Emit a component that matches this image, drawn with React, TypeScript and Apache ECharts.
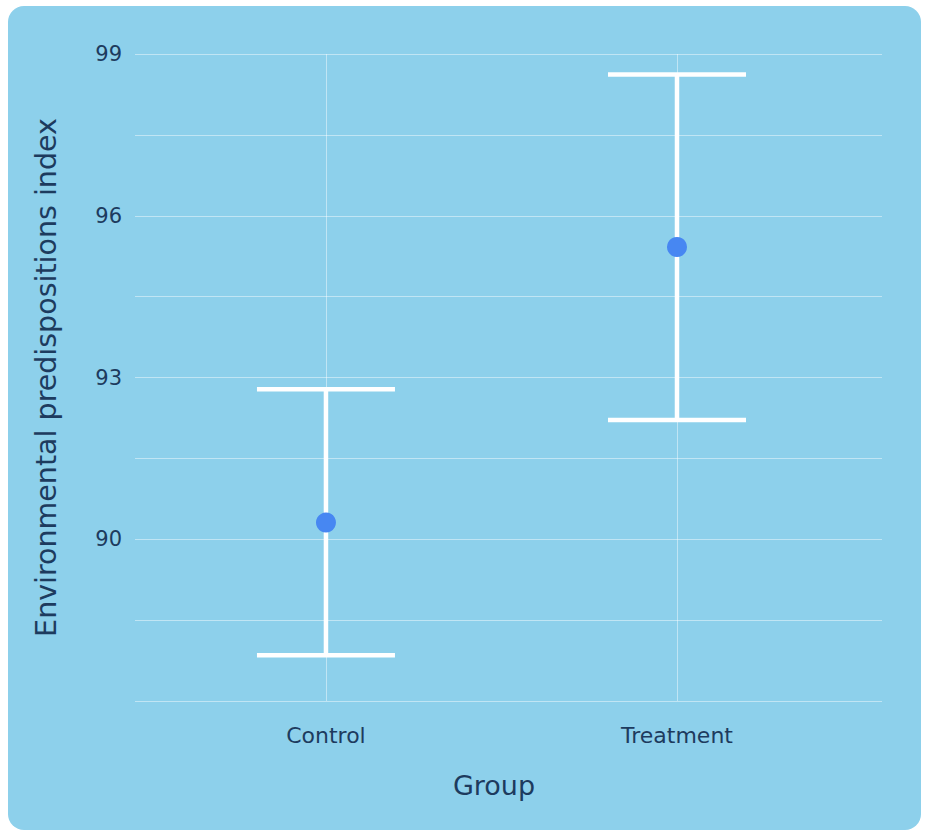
import React, { useEffect, useRef } from "react";
import * as echarts from "echarts";

const groups = ["Control", "Treatment"];
const means = [90.31, 95.42];
const lowers = [87.85, 92.21];
const uppers = [92.78, 98.62];
const yTicks = [90, 93, 96, 99];

const TEXT = "#1d3b5e";
const FONT = "'DejaVu Sans', 'Noto Sans', sans-serif";

export default function App() {
  const ref = useRef<HTMLDivElement>(null);
  useEffect(() => {
    if (!ref.current) return;
    const chart = echarts.init(ref.current, undefined, { renderer: "svg" });
    const errData = groups.map((_, i) => [i, lowers[i], uppers[i]]);
    const meanData = groups.map((_, i) => [i, means[i]]);
    chart.setOption({
      animation: false,
      backgroundColor: "#ffffff",
      graphic: [
        {
          type: "rect",
          z: -10,
          silent: true,
          shape: { x: 8, y: 6, width: 913, height: 824, r: 16 },
          style: { fill: "#8dd0eb" },
        },
        {
          type: "text",
          x: 494,
          y: 785,
          style: {
            text: "Group",
            fill: TEXT,
            font: `27px ${FONT}`,
            textAlign: "center",
            textVerticalAlign: "middle",
          },
        },
      ],
      grid: { left: 135, right: 45, top: 54, bottom: 129 },
      xAxis: {
        type: "value",
        min: -0.544,
        max: 1.584,
        axisLine: { show: false },
        axisTick: { show: false },
        splitLine: { show: false },
        axisLabel: {
          customValues: [0, 1],
          formatter: (v: number) => groups[Math.round(v)] ?? "",
          color: TEXT,
          fontSize: 22,
          fontFamily: FONT,
          margin: 23,
        },
      },
      yAxis: {
        type: "value",
        min: 87,
        max: 99,
        interval: 1.5,
        name: "Environmental predispositions index",
        nameLocation: "middle",
        nameGap: 74,
        nameTextStyle: { color: TEXT, fontSize: 28.5, fontFamily: FONT },
        axisLine: { show: false },
        axisTick: { show: false },
        axisLabel: {
          color: TEXT,
          fontSize: 21,
          fontFamily: FONT,
          margin: 13,
          formatter: (v: number) =>
            yTicks.some((t) => Math.abs(t - v) < 1e-6) ? String(v) : "",
        },
        splitLine: {
          show: true,
          lineStyle: { color: "rgba(255,255,255,0.45)", width: 1 },
        },
      },
      series: [
        {
          type: "custom",
          z: 3,
          data: errData,
          renderItem: (params: any, api: any) => {
            const x = api.value(0);
            const lo = api.coord([x, api.value(1)]);
            const hi = api.coord([x, api.value(2)]);
            const hw = 69;
            const style = { stroke: "#ffffff", lineWidth: 4.5 };
            return {
              type: "group",
              children: [
                { type: "line", shape: { x1: lo[0], y1: lo[1], x2: hi[0], y2: hi[1] }, style },
                { type: "line", shape: { x1: lo[0] - hw, y1: lo[1], x2: lo[0] + hw, y2: lo[1] }, style },
                { type: "line", shape: { x1: hi[0] - hw, y1: hi[1], x2: hi[0] + hw, y2: hi[1] }, style },
              ],
            };
          },
        },
        {
          type: "scatter",
          z: 4,
          data: meanData,
          symbol: "circle",
          symbolSize: 20,
          itemStyle: { color: "#4787f2", opacity: 1 },
          markLine: {
            silent: true,
            symbol: "none",
            z: 1,
            label: { show: false },
            lineStyle: { color: "rgba(255,255,255,0.45)", width: 1, type: "solid" },
            data: groups.map((_, i) => ({ xAxis: i })),
          },
        },
      ],
    });
    return () => chart.dispose();
  }, []);
  return (
    <div
      ref={ref}
      style={{ position: "fixed", left: 0, top: 0, width: 927, height: 830 }}
    />
  );
}
